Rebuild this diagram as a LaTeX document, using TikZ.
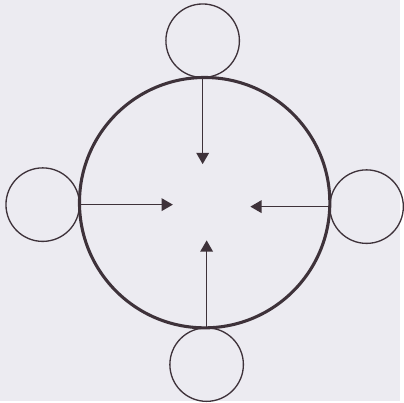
\documentclass[tikz,border=0pt]{standalone}
\usepackage{tikz}
\usetikzlibrary{arrows.meta, positioning, backgrounds}
\usepackage{xcolor}
\definecolor{Ink}{RGB}{62, 50, 58}
\definecolor{Paper}{RGB}{236, 235, 241}
\tikzset{
    core/.style={circle, draw=Ink, line width=2.2pt, minimum size=6.3cm, outer sep=0pt, inner sep=0pt},
    satellite/.style={circle, draw=Ink, line width=0.95pt, minimum size=1.85cm, outer sep=0pt, inner sep=0pt},
    arr/.style={-{Triangle[width=9pt, length=8pt]}, line width=0.9pt, draw=Ink}
}

\begin{document}
\begin{tikzpicture}[node distance=0pt]
    \node[core] (core) at (0,0) {};

    \node[satellite, above=of core.north, xshift=-0.05cm] (sN) {};
    \node[satellite, left=of core.west, yshift=-0.05cm] (sW) {};
    \node[satellite, right=of core.east, yshift=-0.1cm] (sE) {};
    \node[satellite, below=of core.south, xshift=0.05cm] (sS) {};

    \coordinate[below=2.18cm of sN.south] (tipN);
    \coordinate[right=2.35cm of sW.east] (tipW);
    \coordinate[left=2.0cm of sE.west] (tipE);
    \coordinate[above=2.2cm of sS.north] (tipS);

    \draw[arr] (sN.south) -- (tipN);
    \draw[arr] (sW.east) -- (tipW);
    \draw[arr] (sE.west) -- (tipE);
    \draw[arr] (sS.north) -- (tipS);

    \begin{scope}[on background layer]
        \fill[Paper] (-5.15cm,-5.0cm) rectangle (4.925cm,5.1cm);
    \end{scope}
    \useasboundingbox (-5.15cm,-5.0cm) rectangle (4.925cm,5.1cm);
  \end{tikzpicture}
\end{document}
